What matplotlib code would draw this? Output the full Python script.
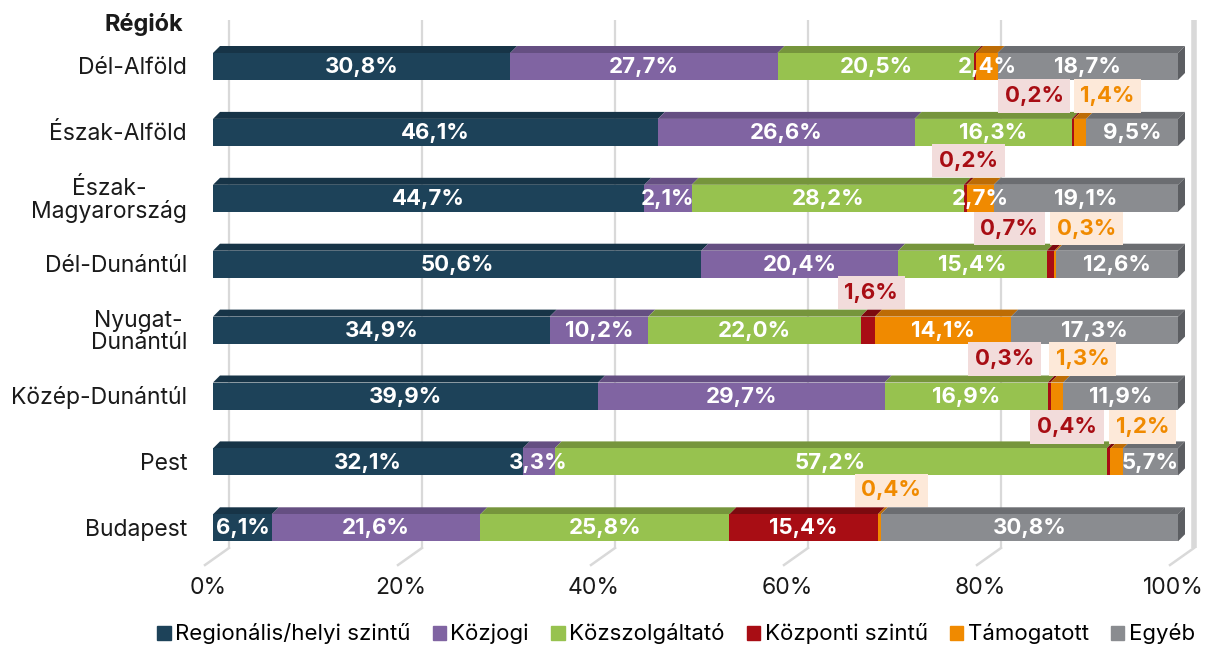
import matplotlib
matplotlib.use('Agg')
import matplotlib.pyplot as plt
from matplotlib.patches import Polygon, Patch

plt.rcParams['font.family'] = ['Inter', 'DejaVu Sans']

regions = ['Dél-Alföld', 'Észak-Alföld', 'Észak-\nMagyarország', 'Dél-Dunántúl',
           'Nyugat-\nDunántúl', 'Közép-Dunántúl', 'Pest', 'Budapest']
series = ['Regionális/helyi szintű', 'Közjogi', 'Közszolgáltató',
          'Központi szintű', 'Támogatott', 'Egyéb']

# segment widths (%)
regional = [30.8, 46.1, 44.7, 50.6, 34.9, 39.9, 32.1, 6.1]
kozjogi = [27.7, 26.6, 4.9, 20.4, 10.2, 29.7, 3.3, 21.6]
kozszolg = [20.4, 16.3, 28.2, 15.4, 22.0, 16.9, 57.2, 25.8]
kozponti = [0.2, 0.2, 0.3, 0.8, 1.5, 0.3, 0.4, 15.4]
tamogatott = [2.2, 1.3, 2.8, 0.2, 14.1, 1.3, 1.3, 0.3]
egyeb = [18.7, 9.5, 19.1, 12.6, 17.3, 11.9, 5.7, 30.8]

# labels printed inside the bars
lab_regional = ['30,8%', '46,1%', '44,7%', '50,6%', '34,9%', '39,9%', '32,1%', '6,1%']
lab_kozjogi = ['27,7%', '26,6%', '2,1%', '20,4%', '10,2%', '29,7%', '3,3%', '21,6%']
lab_kozszolg = ['20,5%', '16,3%', '28,2%', '15,4%', '22,0%', '16,9%', '57,2%', '25,8%']
lab_kozponti = [None, None, None, None, None, None, None, '15,4%']
lab_tamogatott = ['2,4%', None, '2,7%', None, '14,1%', None, None, None]
lab_egyeb = ['18,7%', '9,5%', '19,1%', '12,6%', '17,3%', '11,9%', '5,7%', '30,8%']

# boxed labels: (row, series index, text, x position in %, y offset in rows)
callouts = [
    (0, 3, '0,2%', 85.1, 0.45), (0, 4, '1,4%', 92.7, 0.45),
    (1, 3, '0,2%', 78.3, 0.43),
    (2, 3, '0,7%', 82.5, 0.46), (2, 4, '0,3%', 90.5, 0.46),
    (3, 3, '1,6%', 68.2, 0.43),
    (4, 3, '0,3%', 82.0, 0.44), (4, 4, '1,3%', 90.1, 0.44),
    (5, 3, '0,4%', 88.5, 0.47), (5, 4, '1,2%', 96.3, 0.47),
    (7, 4, '0,4%', 70.3, -0.57),
]

ticks = [0, 20, 40, 60, 80, 100]

front = ['#1d4259', '#8064a2', '#97c24f', '#a80d14', '#f08a00', '#8a8c90']
top = ['#173447', '#654f82', '#76953c', '#7c0a0f', '#bd6c05', '#6b6d71']
side = '#5c5e62'
box_bg = {3: '#f2dcdb', 4: '#fde9d9'}

values = [regional, kozjogi, kozszolg, kozponti, tamogatott, egyeb]
labels = [lab_regional, lab_kozjogi, lab_kozszolg, lab_kozponti, lab_tamogatott, lab_egyeb]

W, H = 1205, 647
fig = plt.figure(figsize=(W / 100, H / 100), dpi=100)

# pixel layout: 0% at x=213, 100% at x=1178; row centres 65.9 px apart
px_per_pct = 9.65
row_px = 65.9
ax = fig.add_axes([213 / W, 53.3 / H, 965 / W, 593.1 / H])
ax.set_xlim(0, 100)
ax.set_ylim(8, -1)
ax.axis('off')


def px2x(px):
    return (px - 213) / px_per_pct


def px2y(py):
    return (py - 0.6) / row_px - 1


bh = 27 / row_px
dx = 7 / px_per_pct
dy = 7 / row_px
back = 16 / px_per_pct
floor_dx = -8 / px_per_pct
txt_c = '#1a1a1a'

# gridlines on back wall + floor stubs
for t in ticks:
    xb = t + back
    lw = 4 if t == 100 else 1.6
    ax.plot([xb, xb], [px2y(20), px2y(548)], color='#d9d9d9', lw=lw, zorder=0,
            solid_capstyle='butt', clip_on=False)
    ax.plot([xb, t + floor_dx], [px2y(548), px2y(565)], color='#d9d9d9', lw=1.8,
            zorder=0, clip_on=False)
    ax.text(t + floor_dx + 0.3, px2y(588), f'{t}%', ha='center', va='center',
            fontsize=16.5, color=txt_c)

for i in range(len(regions)):
    left = 0
    yt = i - bh / 2
    for j, vals in enumerate(values):
        w = vals[i]
        ax.barh(i, w, left=left, height=bh, color=front[j], lw=0, zorder=2)
        ax.add_patch(Polygon([(left, yt), (left + w, yt), (left + w + dx, yt - dy),
                              (left + dx, yt - dy)], closed=True, color=top[j], lw=0,
                             zorder=1.5, clip_on=False))
        lab = labels[j][i]
        if lab:
            ax.text(left + w / 2, i + 0.01, lab, ha='center', va='center', color='white',
                    fontsize=16, fontweight='bold', zorder=4)
        left += w
    # right end face of the bar
    ax.add_patch(Polygon([(left, yt), (left + dx, yt - dy), (left + dx, yt + bh - dy),
                          (left, yt + bh)], closed=True, color=side, lw=0, zorder=1.5,
                         clip_on=False))
    ax.text(px2x(187), i + 0.03, regions[i], ha='right', va='center',
            multialignment='center', fontsize=16.5, linespacing=1.0, color=txt_c)

for row, s, txt, xpos, off in callouts:
    ax.text(xpos, row + off, txt, ha='center', va='center', fontsize=16,
            fontweight='bold', color=front[s], zorder=5,
            bbox=dict(boxstyle='square,pad=0.3', fc=box_bg[s], ec='none'))

ax.text(px2x(183), px2y(25), 'Régiók', ha='right', va='center', fontsize=17,
        fontweight='bold', color=txt_c)

handles = [Patch(color=c) for c in front]
fig.legend(handles, series, loc='center', bbox_to_anchor=(676 / W, 1 - 634 / H), ncol=6,
           frameon=False, fontsize=16, handlelength=0.6, handleheight=0.6,
           handletextpad=0.2, columnspacing=1.0)

fig.savefig('out.png', dpi=100)
